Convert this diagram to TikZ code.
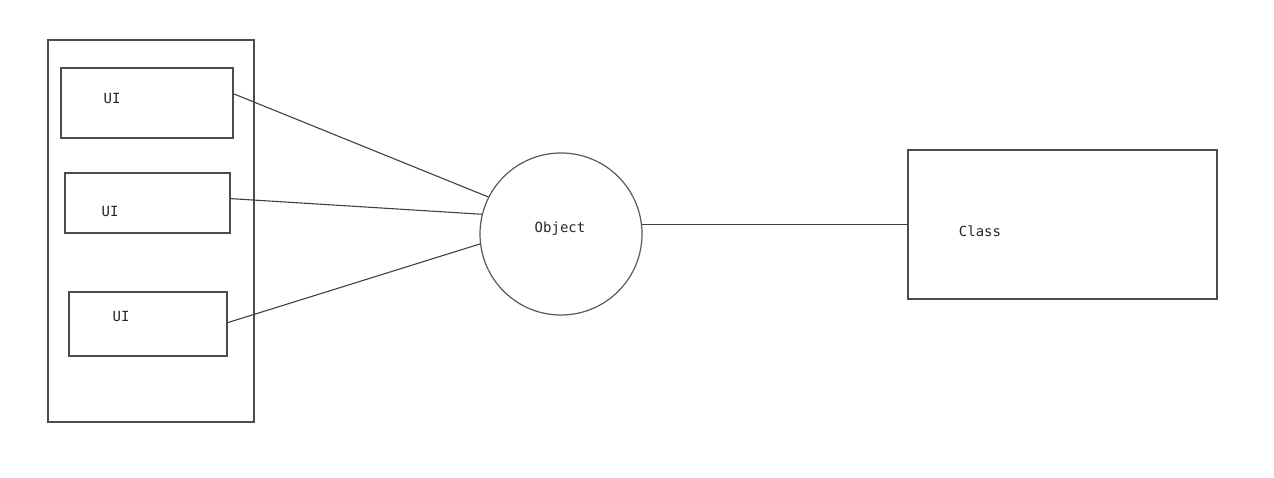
\documentclass[tikz,border=0pt]{standalone}
\usepackage{fontspec}
\setmonofont{DejaVu Sans Mono}
\usetikzlibrary{positioning}

\tikzset{
  box/.style={draw=black!70, line width=1.6pt, rectangle, inner sep=0pt},
  obj/.style={draw=black!65, line width=1.2pt, circle, inner sep=0pt, minimum size=162},
  lbl/.style={font=\ttfamily\fontsize{14}{16}\selectfont, text=black!85, inner sep=0pt},
  link/.style={draw=black!75, line width=1.1pt}
}

\begin{document}
\begin{tikzpicture}[x=1pt,y=-1pt]
 \useasboundingbox (0,0) rectangle (1274,478);

 \node[box, minimum width=206, minimum height=382] (panel) at (151,231) {};
 \node[box, minimum width=172, minimum height=70] (ui1) at (147,103) {};
 \node[box, minimum width=165, minimum height=60] (ui2) at (147.5,203) {};
 \node[box, minimum width=158, minimum height=64] (ui3) at (148,324) {};
 \node[lbl] (ui1text) at (112,98.5) {UI};
 \node[lbl] (ui2text) at (110,211) {UI};
 \node[lbl] (ui3text) at (121,316.5) {UI};

 \node[obj] (object) at (561,234) {};
 \node[lbl] (objtext) at (560,229) {Object};

 \node[box, minimum width=309, minimum height=149] (class) at (1062.5,224.5) {};
 \node[lbl] (classtext) at (980,231.5) {Class};

 \draw[link] (ui1.6.6) -- (object.153);
 \draw[link] (ui2.3.5) -- (object.166);
 \draw[link] (ui3.1.5) -- (object.187);
 \draw[link] (object.7.8) -- (object.7.8 -| class.west);
\end{tikzpicture}
\end{document}
